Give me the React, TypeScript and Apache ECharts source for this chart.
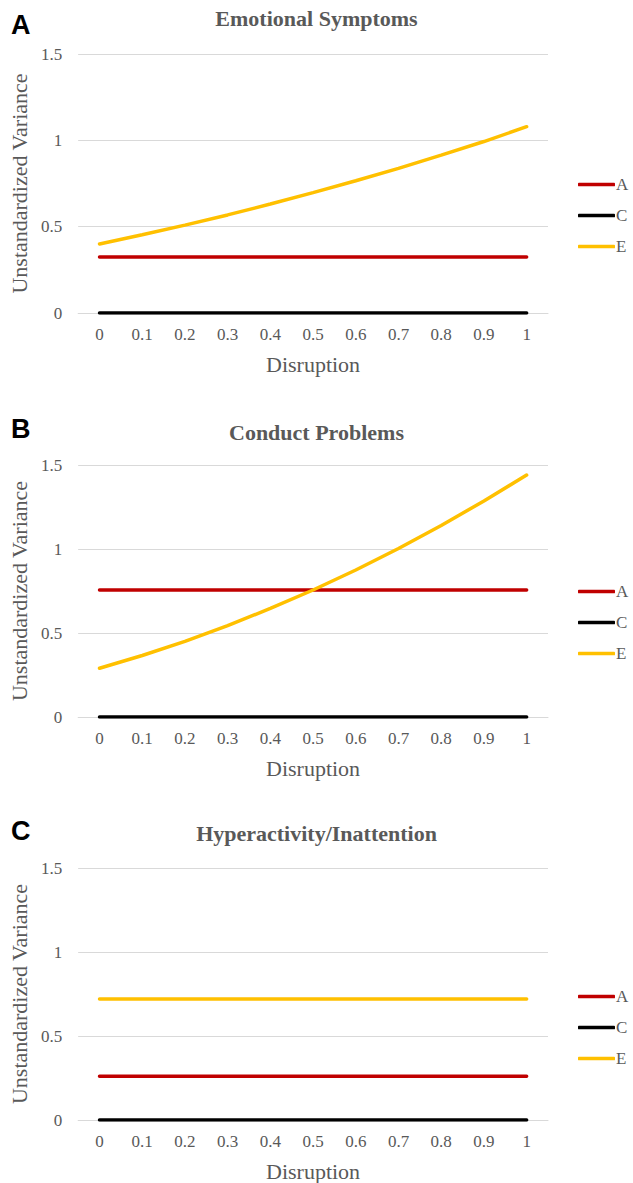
import React, { useEffect, useRef } from "react";
import * as echarts from "echarts";

const categories = ["0", "0.1", "0.2", "0.3", "0.4", "0.5", "0.6", "0.7", "0.8", "0.9", "1"];
const yTicks = [0, 0.5, 1, 1.5];

const panelTitles = ["Emotional Symptoms", "Conduct Problems", "Hyperactivity/Inattention"];
const panelLetters = ["A", "B", "C"];
const seriesNames = ["A", "C", "E"];

// Panel A: Emotional Symptoms
const emoA = [0.325, 0.325, 0.325, 0.325, 0.325, 0.325, 0.325, 0.325, 0.325, 0.325, 0.325];
const emoC = [0, 0, 0, 0, 0, 0, 0, 0, 0, 0, 0];
const emoE = [0.4, 0.453, 0.509, 0.568, 0.631, 0.697, 0.766, 0.838, 0.914, 0.993, 1.079];

// Panel B: Conduct Problems
const conA = [0.756, 0.756, 0.756, 0.756, 0.756, 0.756, 0.756, 0.756, 0.756, 0.756, 0.756];
const conC = [0, 0, 0, 0, 0, 0, 0, 0, 0, 0, 0];
const conE = [0.29, 0.366, 0.45, 0.544, 0.646, 0.756, 0.875, 1.003, 1.14, 1.286, 1.44];

// Panel C: Hyperactivity/Inattention
const hypA = [0.26, 0.26, 0.26, 0.26, 0.26, 0.26, 0.26, 0.26, 0.26, 0.26, 0.26];
const hypC = [0, 0, 0, 0, 0, 0, 0, 0, 0, 0, 0];
const hypE = [0.72, 0.72, 0.72, 0.72, 0.72, 0.72, 0.72, 0.72, 0.72, 0.72, 0.72];

const panelData = [
  [emoA, emoC, emoE],
  [conA, conC, conE],
  [hypA, hypC, hypE],
];

const colors = ["#C00000", "#000000", "#FFC000"];
const serif = "'Liberation Serif', 'Times New Roman', serif";
const gray = "#595959";

const layout = [
  { top: 54, height: 259, titleTop: 2, letterY: 24, legendTop: 171 },
  { top: 465, height: 252, titleTop: 416, letterY: 428, legendTop: 578 },
  { top: 868, height: 252, titleTop: 817, letterY: 830, legendTop: 983 },
];

export default function App() {
  const ref = useRef<HTMLDivElement>(null);
  useEffect(() => {
    if (!ref.current) return;
    const chart = echarts.init(ref.current, null, { renderer: "svg" });
    const grid: any[] = [];
    const xAxis: any[] = [];
    const yAxis: any[] = [];
    const series: any[] = [];
    const title: any[] = [];
    const legend: any[] = [];
    const graphic: any[] = [];
    layout.forEach((l, i) => {
      grid.push({ left: 75, right: 85, top: l.top, height: l.height, containLabel: false });
      xAxis.push({
        type: "category",
        gridIndex: i,
        data: categories,
        boundaryGap: true,
        name: "Disruption",
        nameLocation: "middle",
        nameGap: 40,
        nameTextStyle: { fontFamily: serif, fontSize: 22, color: gray },
        axisLine: { show: true, lineStyle: { color: "#d9d9d9", width: 1 } },
        axisTick: { show: false },
        axisLabel: { fontFamily: serif, fontSize: 17, color: gray, margin: 13, interval: 0 },
      });
      yAxis.push({
        type: "value",
        gridIndex: i,
        min: 0,
        max: 1.5,
        interval: 0.5,
        name: "Unstandardized Variance",
        nameLocation: "middle",
        nameGap: 44,
        nameTextStyle: { fontFamily: serif, fontSize: 22, color: gray },
        axisLine: { show: false },
        axisTick: { show: false },
        axisLabel: {
          fontFamily: serif,
          fontSize: 17,
          color: gray,
          margin: 16,
          formatter: (v: number) => (yTicks.includes(v) ? String(v) : ""),
        },
        splitLine: { show: true, lineStyle: { color: "#d9d9d9", width: 1 } },
      });
      title.push({
        text: panelTitles[i],
        left: "center",
        top: l.titleTop,
        textStyle: { fontFamily: serif, fontSize: 22, fontWeight: "bold", color: gray },
      });
      legend.push({
        orient: "vertical",
        left: 573,
        top: l.legendTop,
        itemWidth: 37,
        itemHeight: 3.5,
        itemGap: 14,
        icon: "roundRect",
        data: seriesNames,
        textStyle: { fontFamily: serif, fontSize: 17, color: gray, padding: [0, 0, 0, -4] },
        selectedMode: false,
      });
      graphic.push({
        type: "text",
        left: 11,
        top: l.letterY - 13,
        style: {
          text: panelLetters[i],
          fontFamily: "'Liberation Sans', Arial, sans-serif",
          fontSize: 27,
          fontWeight: "bold",
          fill: "#000000",
        },
      });
      seriesNames.forEach((name, j) => {
        series.push({
          name,
          type: "line",
          xAxisIndex: i,
          yAxisIndex: i,
          data: panelData[i][j],
          symbol: "none",
          smooth: false,
          lineStyle: { color: colors[j], width: 3.5, cap: "round" },
          itemStyle: { color: colors[j] },
          z: j === 2 ? 3 : 2,
        });
      });
    });
    chart.setOption({
      animation: false,
      backgroundColor: "#ffffff",
      grid,
      xAxis,
      yAxis,
      title,
      legend,
      graphic,
      series,
    });
    return () => chart.dispose();
  }, []);
  return (
    <div
      ref={ref}
      style={{ position: "absolute", left: 0, top: 0, width: 633, height: 1183 }}
    />
  );
}
